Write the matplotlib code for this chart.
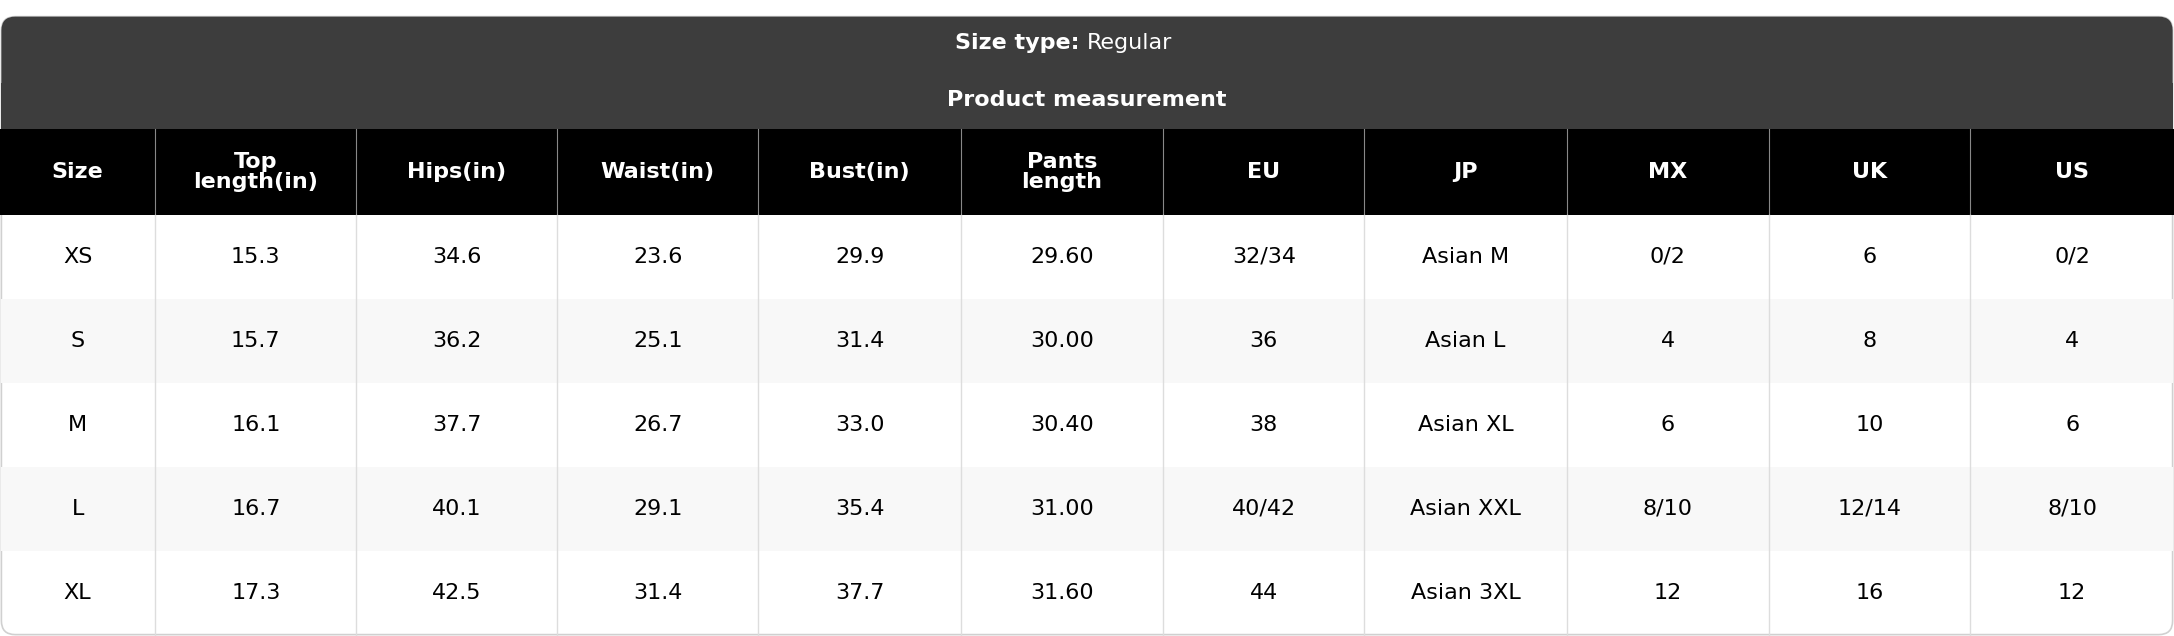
import matplotlib
matplotlib.use("Agg")
import matplotlib.pyplot as plt
from matplotlib.patches import FancyBboxPatch, Rectangle

columns = ["Size", "Top\nlength(in)", "Hips(in)", "Waist(in)", "Bust(in)", "Pants\nlength", "EU", "JP", "MX", "UK", "US"]
sizes = ["XS", "S", "M", "L", "XL"]
top_length = ["15.3", "15.7", "16.1", "16.7", "17.3"]
hips = ["34.6", "36.2", "37.7", "40.1", "42.5"]
waist = ["23.6", "25.1", "26.7", "29.1", "31.4"]
bust = ["29.9", "31.4", "33.0", "35.4", "37.7"]
pants_length = ["29.60", "30.00", "30.40", "31.00", "31.60"]
eu = ["32/34", "36", "38", "40/42", "44"]
jp = ["Asian M", "Asian L", "Asian XL", "Asian XXL", "Asian 3XL"]
mx = ["0/2", "4", "6", "8/10", "12"]
uk = ["6", "8", "10", "12/14", "16"]
us = ["0/2", "4", "6", "8/10", "12"]

W, H = 1568, 459
fig = plt.figure(figsize=(21.74, 6.36), dpi=100)
ax = fig.add_axes([0, 0, 1, 1])
ax.set_xlim(0, W); ax.set_ylim(H, 0); ax.axis("off")

FS = 16
# outer rounded frame
ax.add_patch(FancyBboxPatch((1, 12), W - 2, 446, boxstyle="round,pad=0,rounding_size=10",
                            fc="white", ec="#d0d0d0", lw=1.2, zorder=0))
ax.add_patch(FancyBboxPatch((1, 12), W - 2, 81, boxstyle="round,pad=0,rounding_size=10",
                            fc="#3d3d3d", ec="none", zorder=1))
ax.add_patch(Rectangle((1, 60), W - 2, 33, fc="#3d3d3d", ec="none", zorder=1))
ax.text(W / 2, 31, "Size type: ", ha="right", va="center", color="white", fontsize=FS, fontweight="bold", zorder=3)
ax.text(W / 2, 31, "Regular", ha="left", va="center", color="white", fontsize=FS, zorder=3)
ax.text(W / 2, 72, "Product measurement", ha="center", va="center", color="white", fontsize=FS, fontweight="bold", zorder=3)

xb = [0, 112, 257, 402, 547, 693, 839, 984, 1130, 1276, 1421, 1568]
ax.add_patch(Rectangle((0, 93), W, 62, fc="black", ec="none", zorder=1))
for i, c in enumerate(columns):
    ax.text((xb[i] + xb[i + 1]) / 2, 124, c, ha="center", va="center", color="white",
            fontsize=FS, fontweight="bold", linespacing=1.0, zorder=3)

data = [sizes, top_length, hips, waist, bust, pants_length, eu, jp, mx, uk, us]
y0, rh = 155, 60.6
for r in range(len(sizes)):
    top = y0 + r * rh
    if r % 2 == 1:
        ax.add_patch(Rectangle((1, top), W - 2, rh, fc="#f8f8f8", ec="none", zorder=1))
    for i, col in enumerate(data):
        ax.text((xb[i] + xb[i + 1]) / 2, top + rh / 2, col[r], ha="center", va="center",
                color="black", fontsize=FS, zorder=3)
for x in xb[1:-1]:
    ax.plot([x, x], [93, 155], color="#888888", lw=0.8, zorder=2)
    ax.plot([x, x], [155, 458], color="#dddddd", lw=1, zorder=2)
fig.savefig("out.png", dpi=100)
